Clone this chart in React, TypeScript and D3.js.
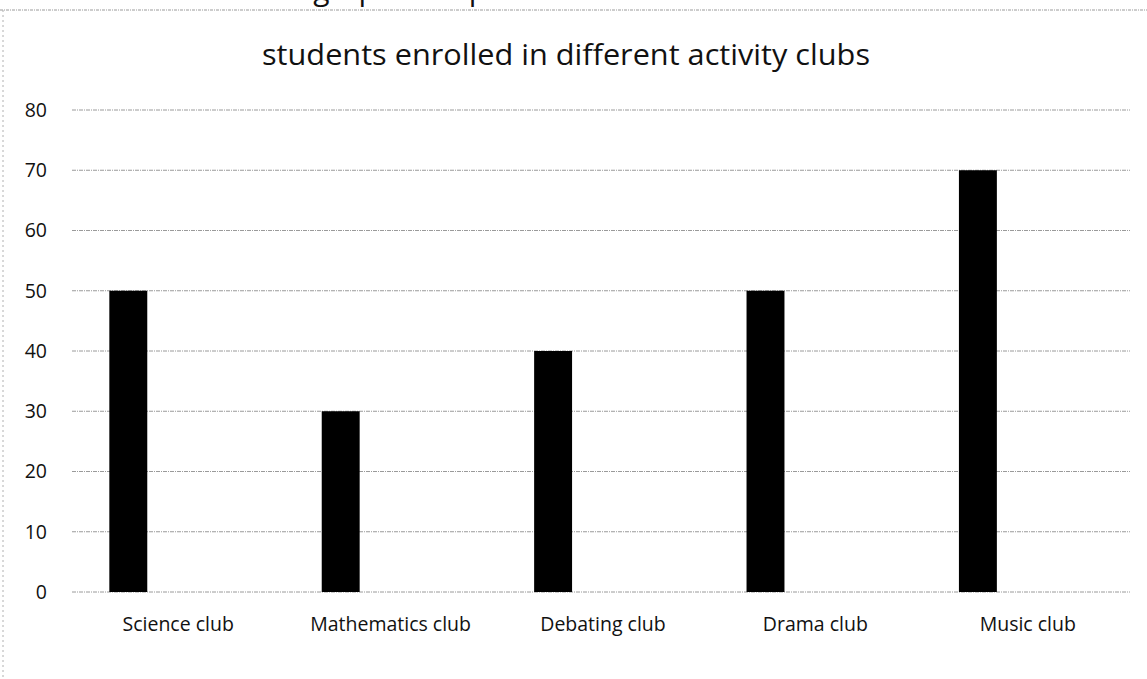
import React, { useRef, useEffect } from 'react';
import * as d3 from 'd3';

const clubs = ['Science club', 'Mathematics club', 'Debating club', 'Drama club', 'Music club'];
const students = [50, 30, 40, 50, 70];
const yTicks = [0, 10, 20, 30, 40, 50, 60, 70, 80];
const chartTitle = 'students enrolled in different activity clubs';
const cutTitle = 'Draw a bar graph to represent the number of';

const W = 1147;
const H = 679;

export default function App() {
  const svgRef = useRef<SVGSVGElement>(null);

  useEffect(() => {
    const svg = d3.select(svgRef.current);
    svg.selectAll('*').remove();

    const margin = { top: 110, right: 13, bottom: 87, left: 72 };

    const x = d3.scaleBand()
      .domain(clubs)
      .range([margin.left, W - margin.right])
      .padding(0);

    // the bar sits in the first slot of each category, like an Excel cluster
    const slot = d3.scaleBand()
      .domain(['a', 'b', 'c', 'd', 'e', 'f'])
      .range([0, x.bandwidth()])
      .paddingInner(0)
      .paddingOuter(0.04);

    const y = d3.scaleLinear()
      .domain([0, 80])
      .range([H - margin.bottom, margin.top]);

    svg.append('rect').attr('width', W).attr('height', H).attr('fill', '#fff');

    // heading from the page above, cropped by the scan
    svg.append('text')
      .attr('x', 152)
      .attr('y', 0)
      .attr('font-family', 'Open Sans, sans-serif')
      .attr('font-size', 30)
      .attr('fill', '#111')
      .text(cutTitle);

    // chart border (scanned, faint)
    svg.append('line')
      .attr('x1', 0).attr('x2', W).attr('y1', 10).attr('y2', 10)
      .attr('stroke', '#9a9a9a').attr('stroke-dasharray', '3,1,1,1');
    svg.append('line')
      .attr('x1', 3).attr('x2', 3).attr('y1', 10).attr('y2', H)
      .attr('stroke', '#b0b0b0').attr('stroke-dasharray', '2,3');

    svg.append('text')
      .attr('x', 566)
      .attr('y', 65)
      .attr('text-anchor', 'middle')
      .attr('font-family', 'Open Sans, sans-serif')
      .attr('font-size', 29)
      .attr('textLength', 608)
      .attr('lengthAdjust', 'spacingAndGlyphs')
      .attr('fill', '#111')
      .text(chartTitle);

    // gridlines
    svg.append('g')
      .selectAll('line')
      .data(yTicks)
      .join('line')
      .attr('x1', margin.left)
      .attr('x2', W - margin.right - 4)
      .attr('y1', d => y(d))
      .attr('y2', d => y(d))
      .attr('stroke', '#9a9a9a')
      .attr('stroke-width', 1)
      .attr('stroke-dasharray', '4,1,1,1');

    // y axis labels
    svg.append('g')
      .selectAll('text')
      .data(yTicks)
      .join('text')
      .attr('x', 47)
      .attr('y', d => y(d))
      .attr('dy', '0.35em')
      .attr('text-anchor', 'end')
      .attr('font-family', 'Open Sans, sans-serif')
      .attr('font-size', 19.5)
      .attr('fill', '#111')
      .text(d => d);

    // bars
    svg.append('g')
      .selectAll('rect')
      .data(clubs)
      .join('rect')
      .attr('x', (d) => (x(d) as number) + (slot('b') as number) + 1)
      .attr('y', (d, i) => y(students[i]))
      .attr('width', slot.bandwidth() + 3)
      .attr('height', (d, i) => y(0) - y(students[i]))
      .attr('fill', '#000');

    // category labels
    svg.append('g')
      .selectAll('text')
      .data(clubs)
      .join('text')
      .attr('x', d => (x(d) as number) + x.bandwidth() / 2)
      .attr('y', H - margin.bottom + 39)
      .attr('text-anchor', 'middle')
      .attr('font-family', 'Open Sans, sans-serif')
      .attr('font-size', 19.5)
      .attr('fill', '#111')
      .text(d => d);
  }, []);

  return (
    <div style={{ position: 'absolute', left: 0, top: 0 }}>
      <svg ref={svgRef} width={W} height={H}></svg>
    </div>
  );
}
